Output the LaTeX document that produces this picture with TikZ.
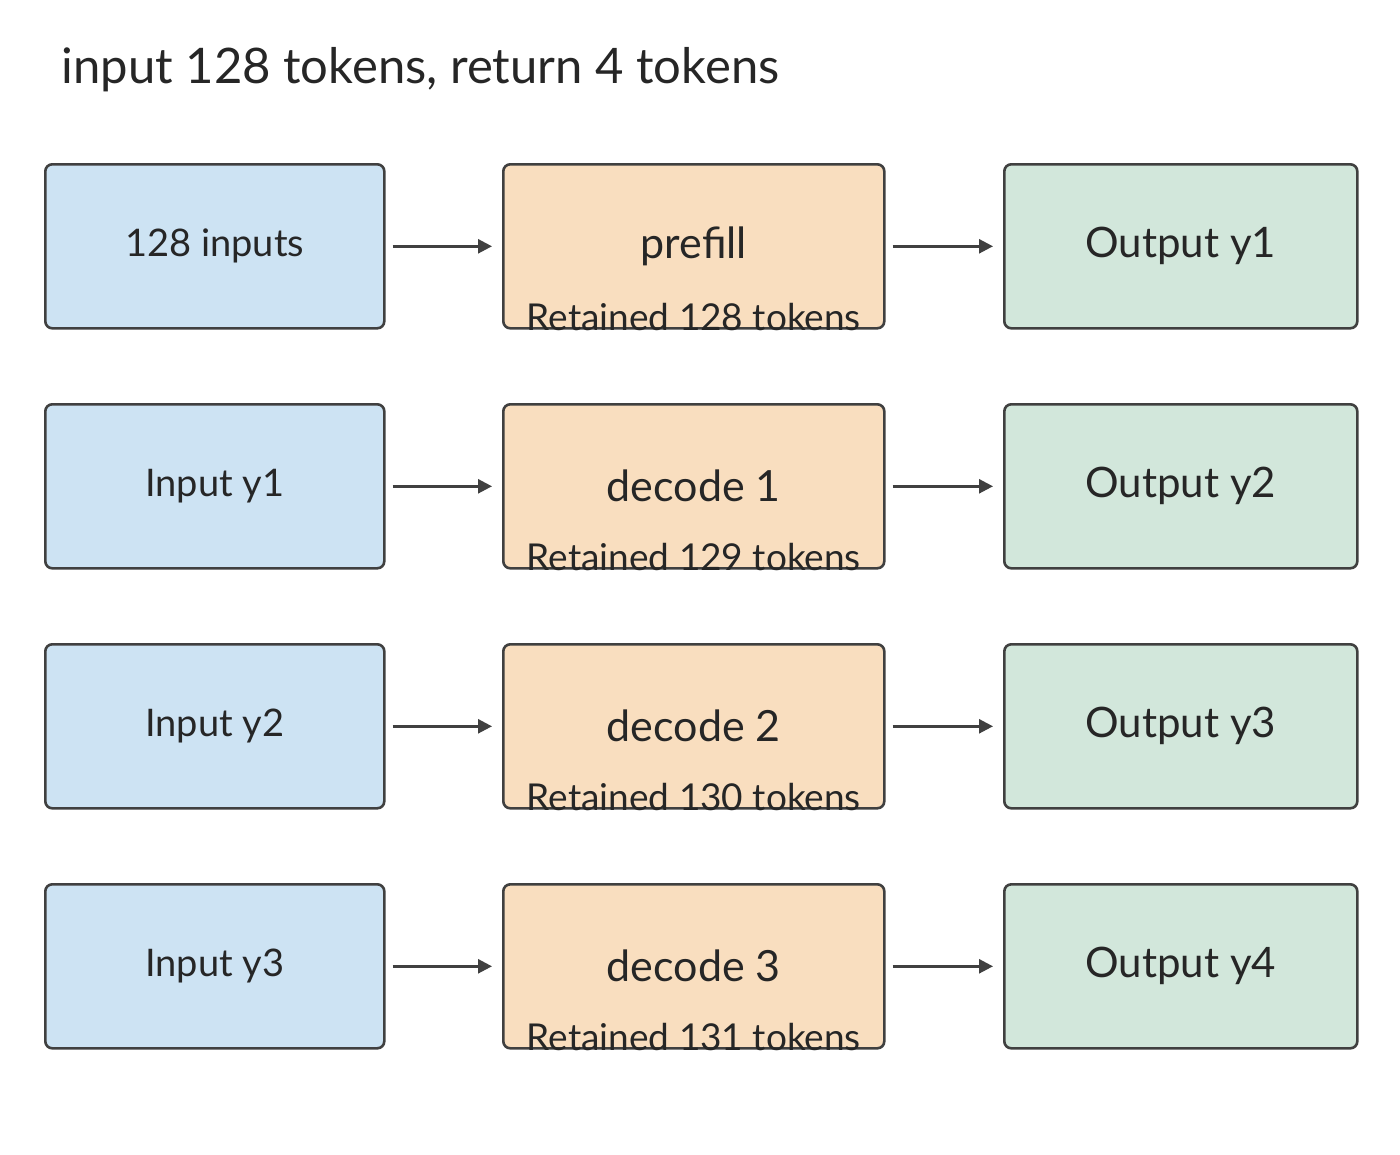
\documentclass[tikz,border=0pt]{standalone}
\usepackage{fontspec}
\setmainfont{Lato}
\usetikzlibrary{arrows.meta}
\definecolor{bblue}{HTML}{CDE3F3}
\definecolor{borange}{HTML}{F9DEBF}
\definecolor{bgreen}{HTML}{D2E7DB}
\definecolor{edge}{HTML}{404040}
\tikzset{x=1pt,y=-1pt,
 box/.style={draw=edge,line width=2.6pt,rounded corners=7pt,anchor=north west,inner sep=0pt,text=black!85},
 arr/.style={draw=edge,line width=2.6pt,-{Triangle[length=14pt,width=14pt]}},
 lbl/.style={font=\fontsize{37}{40}\selectfont,text=black!85}}
\begin{document}
\begin{tikzpicture}
\useasboundingbox (0,0) rectangle (1400,1154);
\node[anchor=west,font=\fontsize{49}{54}\selectfont,text=black!85] (title) at (58,70) {input 128 tokens, return 4 tokens};
\foreach \i/\a/\b/\c/\r [count=\k from 0] in {1/128 inputs/prefill/Output y1/128,2/Input y1/decode 1/Output y2/129,3/Input y2/decode 2/Output y3/130,4/Input y3/decode 3/Output y4/131}{
 \pgfmathsetmacro\yy{163+240*\k}
 \node[box,fill=bblue,minimum width=339pt,minimum height=164pt,font=\fontsize{38}{40}\selectfont] (a\i) at (44,\yy) {\a};
 \node[box,fill=borange,minimum width=381pt,minimum height=164pt,font=\fontsize{43}{46}\selectfont] (b\i) at (502,\yy) {\b};
 \node[box,fill=bgreen,minimum width=353pt,minimum height=164pt,font=\fontsize{42}{46}\selectfont] (c\i) at (1003,\yy) {\c};
 \draw[arr] ([xshift=7pt]a\i.east) -- ([xshift=-10pt]b\i.west);
 \draw[arr] ([xshift=7pt]b\i.east) -- ([xshift=-10pt]c\i.west);
 \node[lbl,anchor=north] (r\i) at ([yshift=30pt]b\i.south) {Retained \r\ tokens};
}
\end{tikzpicture}
\end{document}
